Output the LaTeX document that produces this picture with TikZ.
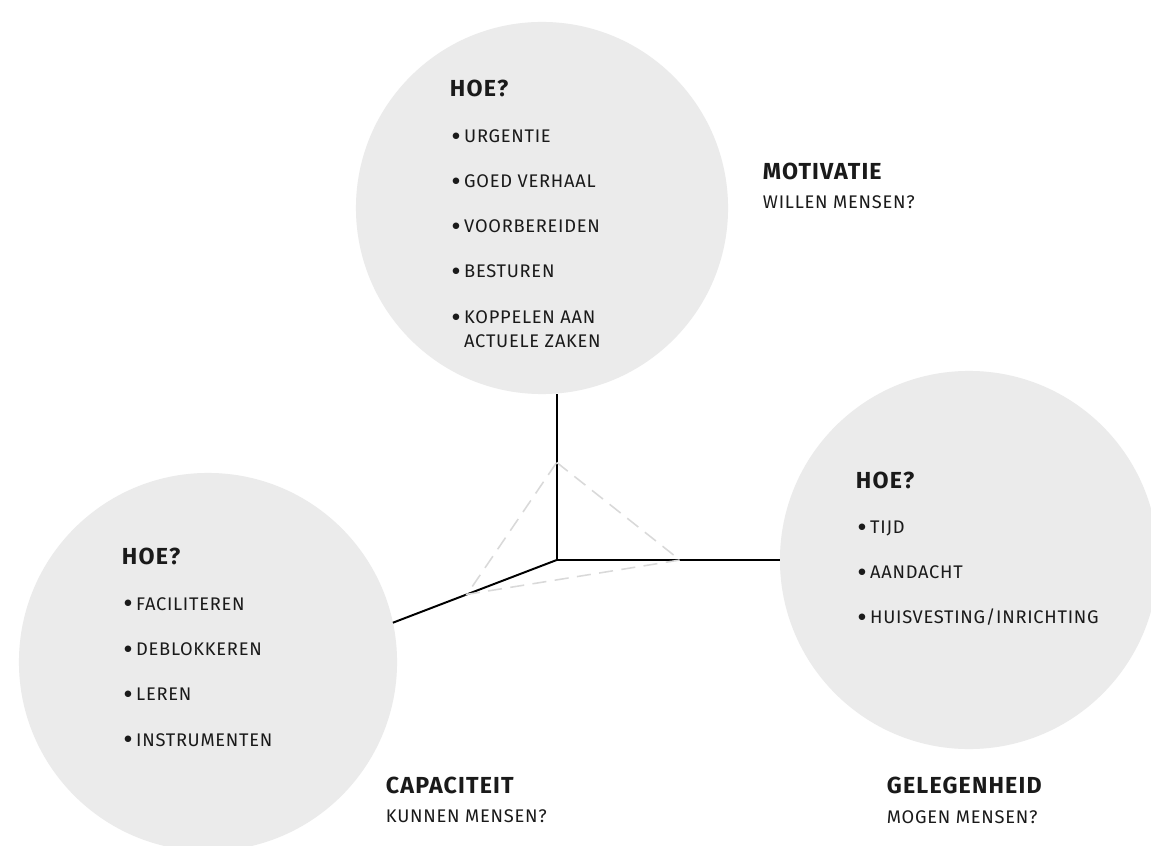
\documentclass[tikz,border=0pt]{standalone}
\usepackage{fontspec}
\setmainfont{Fira Sans}
\usetikzlibrary{positioning,calc}

\definecolor{bubble}{HTML}{EBEBEB}
\definecolor{dashgray}{HTML}{D9D9D9}
\definecolor{ink}{HTML}{1A1A1A}

\newcommand\bul{\makebox[8.7pt][l]{\raisebox{1.6pt}{$\bullet$}}}

\begin{document}
\begin{tikzpicture}[x=0.025cm, y=-0.025cm, line width=1.4pt,
    bubble/.style={circle, fill=bubble, inner sep=0pt, outer sep=0pt},
    hoe/.style={anchor=base west, inner sep=0pt, text=ink,
        font=\fontsize{16.5}{19}\selectfont\bfseries\addfontfeature{LetterSpace=5}},
    item/.style={anchor=base west, inner sep=0pt, text=ink,
        font=\fontsize{13}{17}\selectfont\addfontfeature{LetterSpace=4}}]

    \clip (0,0) rectangle (1151,846);
    \fill[white] (0,0) rectangle (1151,846);

    % --- the three bubbles ---
                \node[bubble, minimum size=9.3cm]  (mot) at (542,208) {};   % motivatie
                \node[bubble, minimum size=9.45cm] (gel) at (969,560) {};   % gelegenheid
                \node[bubble, minimum size=9.45cm] (cap) at (208,662) {};   % capaciteit

    % --- axes ---
                \coordinate (O)  at (556.7,560);
                \coordinate (Ot) at (O |- mot.south);
                \coordinate (Or) at (gel.west);
                \coordinate (Ol) at (cap.12);
                \draw (O) -- (Ot);
                \draw (O) -- (Or);
                \draw (O) -- (Ol);

    % --- dashed triangle ---
                \coordinate (tA) at ($(O)!0.588!(Ot)$);
                \coordinate (tB) at ($(O)!0.552!(Or)$);
                \coordinate (tC) at ($(O)!0.548!(Ol)$);
                \draw[dashgray, line width=1.1pt, dash pattern=on 10pt off 6pt] (tA) -- (tB) -- (tC) -- cycle;

    % --- motivatie ---
                \node[hoe]  (mhoe) at (449,97) {HOE?};
                \node[item] (m1) at (451,142.7) {\bul URGENTIE};
                \node[item] (m2) at (451,187.7) {\bul GOED VERHAAL};
                \node[item] (m3) at (451,232.7) {\bul VOORBEREIDEN};
                \node[item] (m4) at (451,277.7) {\bul BESTUREN};
                \node[item] (m5) at (451,323.3) {\bul KOPPELEN AAN};
                \node[item] (m6) at (m5.base west |- 0,347.3) {\phantom{\bul}ACTUELE ZAKEN};
                \node[hoe]  (mtit) at (762,179.3) {MOTIVATIE};
                \node[item] (msub) at (762,209) {WILLEN MENSEN?};

    % --- gelegenheid ---
                \node[hoe]  (ghoe) at (855,488.3) {HOE?};
                \node[item] (g1) at (857,533.3) {\bul TIJD};
                \node[item] (g2) at (857,578.3) {\bul AANDACHT};
                \node[item] (g3) at (857,623.3) {\bul HUISVESTING/INRICHTING};
                \node[hoe]  (gtit) at (886,793.3) {GELEGENHEID};
                \node[item] (gsub) at (886,823.3) {MOGEN MENSEN?};

    % --- capaciteit ---
                \node[hoe]  (choe) at (121,564.3) {HOE?};
                \node[item] (c1) at (123,610) {\bul FACILITEREN};
                \node[item] (c2) at (123,655.7) {\bul DEBLOKKEREN};
                \node[item] (c3) at (123,700.7) {\bul LEREN};
                \node[item] (c4) at (123,746) {\bul INSTRUMENTEN};
                \node[hoe]  (ctit) at (385,793.3) {CAPACITEIT};
                \node[item] (csub) at (385,822.7) {KUNNEN MENSEN?};

\end{tikzpicture}
\end{document}
